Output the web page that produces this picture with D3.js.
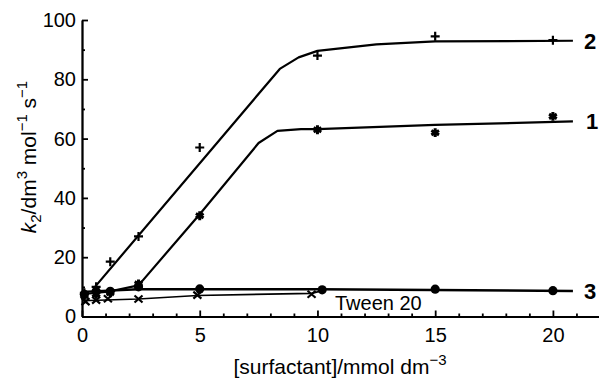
<!DOCTYPE html>
<html>
<head>
<meta charset="utf-8">
<script src="https://cdn.jsdelivr.net/npm/d3@7"></script>
<style>
  body { margin: 0; background: #fff; }
  svg { font-family: "Liberation Sans", Arial, sans-serif; }
</style>
</head>
<body>
<div id="plot"></div>
<script>
// Data
var conc1 = [0.1, 0.6, 1.2, 2.4, 5, 10, 15, 20];
var k1 = [7, 7.5, 8, 11, 34, 63, 62, 67.5];
var conc2 = [0.1, 0.6, 1.2, 2.4, 5, 10, 15, 20];
var k2 = [8, 10, 18.5, 27, 57, 88, 94.5, 93.2];
var conc3 = [0.1, 0.6, 1.2, 2.4, 5, 10.2, 15, 20];
var k3 = [7.5, 8.5, 8.5, 10, 9.3, 9, 9.2, 8.7];
var concTween = [0.15, 0.6, 1.1, 2.4, 4.9, 9.75];
var kTween = [5, 5.5, 6, 5.9, 7.2, 7.5];

// Fitted curves
var fit1x = [0, 1.2, 2.4, 5, 7.5, 8.3, 9.3, 10, 15, 20.85];
var fit1y = [7.5, 8.5, 10.5, 34.5, 58.5, 62.6, 63.2, 63.2, 64.6, 65.8];
var fit2x = [0.55, 8.4, 9.2, 10, 12.5, 15, 20.85];
var fit2y = [10, 83.5, 87.4, 89.6, 91.8, 92.8, 93];
var fit3x = [0, 2.4, 10, 20.85];
var fit3y = [8.3, 9.2, 9.2, 8.6];
var fitTx = [0, 2.4, 4.9, 9.75, 10.3];
var fitTy = [5.3, 5.9, 7.1, 7.8, 8.9];

var xMajor = [0, 5, 10, 15, 20];
var yMajor = [0, 20, 40, 60, 80, 100];

var W = 599, H = 381;
var svg = d3.select("#plot").append("svg")
    .attr("width", W)
    .attr("height", H);

var x = d3.scaleLinear().domain([0, 22]).range([82, 600]);
var y = d3.scaleLinear().domain([0, 100]).range([316.5, 20]);

// X axis (ticks point inward)
var xMinor = d3.range(1, 22).filter(function(v) { return v % 5 != 0; });
svg.append("g")
    .attr("transform", "translate(0," + y(0) + ")")
    .call(d3.axisBottom(x).tickValues(xMinor).tickSizeInner(-3).tickSizeOuter(0).tickFormat(""));
svg.append("g")
    .attr("class", "xaxis")
    .attr("transform", "translate(0," + y(0) + ")")
    .call(d3.axisBottom(x).tickValues(xMajor).tickSizeInner(-6).tickSizeOuter(0).tickPadding(11));

// Y axis
var yMinor = [10, 30, 50, 70, 90];
svg.append("g")
    .attr("transform", "translate(" + x(0) + ",0)")
    .call(d3.axisLeft(y).tickValues(yMinor).tickSizeInner(-3).tickSizeOuter(0).tickFormat(""));
svg.append("g")
    .attr("class", "yaxis")
    .attr("transform", "translate(" + x(0) + ",0)")
    .call(d3.axisLeft(y).tickValues(yMajor).tickSizeInner(-6).tickSizeOuter(0).tickPadding(6));

svg.selectAll(".domain, .tick line")
    .attr("stroke", "#000")
    .attr("stroke-width", 1.8);
svg.selectAll(".tick text")
    .attr("fill", "#000")
    .style("font-size", "20px")
    .style("font-family", "Liberation Sans, Arial, sans-serif");

// Axis titles
var xt = svg.append("text")
    .attr("x", 340)
    .attr("y", 374)
    .attr("text-anchor", "middle")
    .style("font-size", "21px")
    .attr("fill", "#000");
xt.append("tspan").text("[surfactant]/mmol dm");
xt.append("tspan").attr("dy", -9).style("font-size", "15px").text("\u22123");

var yt = svg.append("text")
    .attr("transform", "translate(36,157) rotate(-90)")
    .attr("text-anchor", "middle")
    .style("font-size", "21px")
    .attr("fill", "#000");
yt.append("tspan").style("font-style", "italic").text("k");
yt.append("tspan").attr("dy", 5).style("font-size", "15px").text("2");
yt.append("tspan").attr("dy", -5).text("/dm");
yt.append("tspan").attr("dy", -9).style("font-size", "15px").text("3");
yt.append("tspan").attr("dy", 9).text(" mol");
yt.append("tspan").attr("dy", -9).style("font-size", "15px").text("\u22121");
yt.append("tspan").attr("dy", 9).text(" s");
yt.append("tspan").attr("dy", -9).style("font-size", "15px").text("\u22121");

// Fitted lines
var line = d3.line()
    .x(function(d) { return x(d[0]); })
    .y(function(d) { return y(d[1]); });

function drawFit(xs, ys, w) {
    svg.append("path")
        .datum(d3.zip(xs, ys))
        .attr("d", line)
        .attr("fill", "none")
        .attr("stroke", "#000")
        .attr("stroke-width", w)
        .attr("stroke-linejoin", "round");
}
drawFit(fit1x, fit1y, 2.2);
drawFit(fit2x, fit2y, 2.2);
drawFit(fit3x, fit3y, 2.4);
drawFit(fitTx, fitTy, 1.6);

// Markers
function drawPoints(xs, ys, shape) {
    var g = svg.append("g");
    var pts = g.selectAll("path").data(d3.zip(xs, ys)).enter();
    if (shape == "circle") {
        pts.append("circle")
            .attr("cx", function(d) { return x(d[0]); })
            .attr("cy", function(d) { return y(d[1]); })
            .attr("r", 4.6)
            .attr("fill", "#000");
        return;
    }
    var d;
    if (shape == "plus") d = "M-4.5,0H4.5M0,-4.5V4.5";
    else if (shape == "cross") d = "M-4,-3.5L4,3.5M-4,3.5L4,-3.5";
    else d = d3.symbol(d3.symbolAsterisk, 55)();
    pts.append("path")
        .attr("transform", function(p) { return "translate(" + x(p[0]) + "," + y(p[1]) + ")"; })
        .attr("d", d)
        .attr("fill", "none")
        .attr("stroke", "#000")
        .attr("stroke-width", shape == "star" ? 3 : 2.2);
}
drawPoints(conc1, k1, "star");
drawPoints(conc2, k2, "plus");
drawPoints(conc3, k3, "circle");
drawPoints(concTween, kTween, "cross");

// Curve labels
var labels = [["2", 93, 584], ["1", 65.8, 586], ["3", 8.6, 584]];
svg.selectAll(".clabel")
    .data(labels)
    .enter().append("text")
    .attr("x", function(d) { return d[2]; })
    .attr("y", function(d) { return y(d[1]) + 8; })
    .style("font-size", "22px")
    .style("font-weight", "bold")
    .attr("fill", "#000")
    .text(function(d) { return d[0]; });

svg.append("text")
    .attr("x", 335)
    .attr("y", 310)
    .style("font-size", "20px")
    .attr("fill", "#000")
    .text("Tween 20");
</script>
</body>
</html>
